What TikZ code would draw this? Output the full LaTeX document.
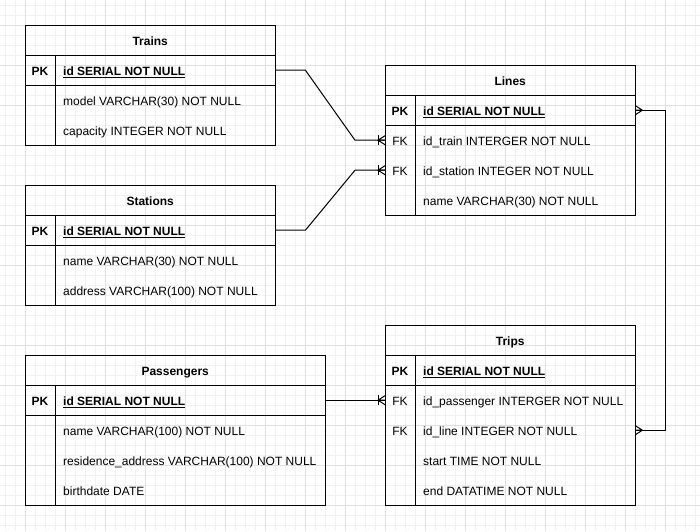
\documentclass[tikz,border=0pt]{standalone}
\usepackage{fontspec}
\setmainfont{Liberation Sans}
\definecolor{gminor}{HTML}{F1F1F1}
\definecolor{gmajor}{HTML}{E0E0E0}
\begin{document}
\begin{tikzpicture}[x=1pt,y=-1pt,
  tbl/.style={draw=black,line width=1pt},
  rowbox/.style={inner sep=0pt,minimum height=30pt,anchor=north west},
  txt/.style={anchor=west,inner sep=0pt,text height=10pt,text depth=0pt,font=\fontsize{12}{14}\selectfont},
  key/.style={anchor=center,inner sep=0pt,text height=10pt,text depth=0pt,font=\fontsize{12}{14}\selectfont},
  hdr/.style={anchor=center,inner sep=0pt,text height=10pt,text depth=0pt,font=\fontsize{12}{14}\selectfont\bfseries},
  conn/.style={draw=black,line width=1pt},
  pics/crowfoot/.style={code={\draw[conn] (-7,0) -- (0,0) (0,-4.5) -- (-7,0) -- (0,4.5);}},
  pics/crowbar/.style={code={\draw[conn] (-7,-5) -- (-7,5);}}
]
\useasboundingbox (0,0) rectangle (700,531);
\fill[white] (0,0) rectangle (700,531);
% grid
\foreach \i in {5,15,...,695} \draw[gminor,line width=0.8pt] (\i,0) -- (\i,531);
\foreach \i in {5,15,...,525} \draw[gminor,line width=0.8pt] (0,\i) -- (700,\i);
\foreach \i in {25,65,...,665} \draw[gmajor,line width=0.8pt] (\i,0) -- (\i,531);
\foreach \i in {25,65,...,505} \draw[gmajor,line width=0.8pt] (0,\i) -- (700,\i);

% ---------- Trains ----------
\node[rowbox,minimum width=250pt] (trainsH) at (25,25) {};
\node[rowbox,minimum width=250pt] (trainsPK) at (25,55) {};
\draw[tbl] (25,25) rectangle (275,145);
\draw[tbl] (25,55) -- (275,55) (25,85) -- (275,85) (55,55) -- (55,145);
\node[hdr] at (trainsH.center) {Trains};
\node[key,font=\fontsize{12}{14}\selectfont\bfseries] at (40,70.5) {PK};
\node[txt,font=\fontsize{12}{14}\selectfont\bfseries] at (63,70.5) {\underline{id SERIAL NOT NULL}};
\node[txt] at (63,100.5) {model VARCHAR(30) NOT NULL};
\node[txt] at (63,130.5) {capacity INTEGER NOT NULL};

% ---------- Stations ----------
\node[rowbox,minimum width=250pt] (stH) at (25,185) {};
\node[rowbox,minimum width=250pt] (stPK) at (25,215) {};
\draw[tbl] (25,185) rectangle (275,305);
\draw[tbl] (25,215) -- (275,215) (25,245) -- (275,245) (55,215) -- (55,305);
\node[hdr] at (stH.center) {Stations};
\node[key,font=\fontsize{12}{14}\selectfont\bfseries] at (40,230.5) {PK};
\node[txt,font=\fontsize{12}{14}\selectfont\bfseries] at (63,230.5) {\underline{id SERIAL NOT NULL}};
\node[txt] at (63,260.5) {name VARCHAR(30) NOT NULL};
\node[txt] at (63,290.5) {address VARCHAR(100) NOT NULL};

% ---------- Passengers ----------
\node[rowbox,minimum width=300pt] (paH) at (25,355) {};
\node[rowbox,minimum width=300pt] (paPK) at (25,385) {};
\draw[tbl] (25,355) rectangle (325,505);
\draw[tbl] (25,385) -- (325,385) (25,415) -- (325,415) (55,385) -- (55,505);
\node[hdr] at (paH.center) {Passengers};
\node[key,font=\fontsize{12}{14}\selectfont\bfseries] at (40,400.5) {PK};
\node[txt,font=\fontsize{12}{14}\selectfont\bfseries] at (63,400.5) {\underline{id SERIAL NOT NULL}};
\node[txt] at (63,430.5) {name VARCHAR(100) NOT NULL};
\node[txt] at (63,460.5) {residence\_address VARCHAR(100) NOT NULL};
\node[txt] at (63,490.5) {birthdate DATE};

% ---------- Lines ----------
\node[rowbox,minimum width=250pt] (liH) at (385,65) {};
\node[rowbox,minimum width=250pt] (liPK) at (385,95) {};
\node[rowbox,minimum width=250pt] (liFK1) at (385,125) {};
\node[rowbox,minimum width=250pt] (liFK2) at (385,155) {};
\draw[tbl] (385,65) rectangle (635,215);
\draw[tbl] (385,95) -- (635,95) (385,125) -- (635,125) (415,95) -- (415,215);
\node[hdr] at (liH.center) {Lines};
\node[key,font=\fontsize{12}{14}\selectfont\bfseries] at (400,110.5) {PK};
\node[txt,font=\fontsize{12}{14}\selectfont\bfseries] at (423,110.5) {\underline{id SERIAL NOT NULL}};
\node[key] at (400,140.5) {FK};
\node[txt] at (423,140.5) {id\_train INTERGER NOT NULL};
\node[key] at (400,170.5) {FK};
\node[txt] at (423,170.5) {id\_station INTEGER NOT NULL};
\node[txt] at (423,200.5) {name VARCHAR(30) NOT NULL};

% ---------- Trips ----------
\node[rowbox,minimum width=250pt] (trH) at (385,325) {};
\node[rowbox,minimum width=250pt] (trPK) at (385,355) {};
\node[rowbox,minimum width=250pt] (trFK1) at (385,385) {};
\node[rowbox,minimum width=250pt] (trFK2) at (385,415) {};
\draw[tbl] (385,325) rectangle (635,505);
\draw[tbl] (385,355) -- (635,355) (385,385) -- (635,385) (415,355) -- (415,505);
\node[hdr] at (trH.center) {Trips};
\node[key,font=\fontsize{12}{14}\selectfont\bfseries] at (400,370.5) {PK};
\node[txt,font=\fontsize{12}{14}\selectfont\bfseries] at (423,370.5) {\underline{id SERIAL NOT NULL}};
\node[key] at (400,400.5) {FK};
\node[txt] at (423,400.5) {id\_passenger INTERGER NOT NULL};
\node[key] at (400,430.5) {FK};
\node[txt] at (423,430.5) {id\_line INTEGER NOT NULL};
\node[txt] at (423,460.5) {start TIME NOT NULL};
\node[txt] at (423,490.5) {end DATATIME NOT NULL};

% ---------- connectors ----------
\draw[conn] (trainsPK.east) -- ++(30,0) -- ([xshift=-30pt]liFK1.west) -- (liFK1.west);
\pic at (liFK1.west) {crowfoot};
\pic at (liFK1.west) {crowbar};

\draw[conn] (stPK.east) -- ++(30,0) -- ([xshift=-30pt]liFK2.west) -- (liFK2.west);
\pic at (liFK2.west) {crowfoot};
\pic at (liFK2.west) {crowbar};

\draw[conn] (paPK.east) -- (trFK1.west);
\pic at (trFK1.west) {crowfoot};
\pic at (trFK1.west) {crowbar};

\draw[conn] (liPK.east) -- ++(30,0) |- (trFK2.east);
\pic[rotate=180] at (liPK.east) {crowfoot};
\pic[rotate=180] at (trFK2.east) {crowfoot};
\end{tikzpicture}
\end{document}
